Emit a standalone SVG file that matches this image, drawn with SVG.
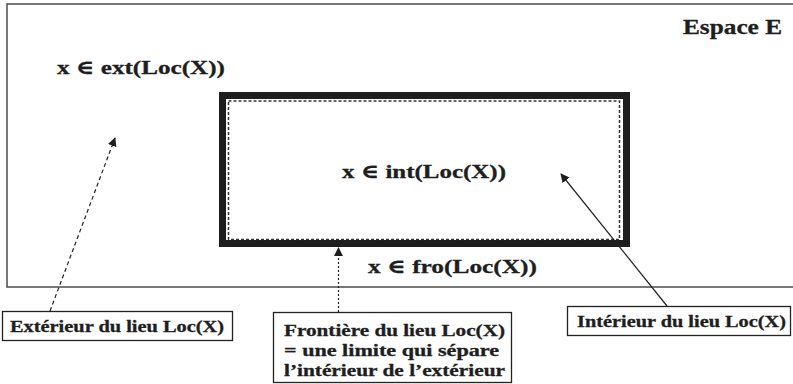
<svg xmlns="http://www.w3.org/2000/svg" width="793" height="384" viewBox="0 0 793 384">
  <style>
    text { font-family: "Liberation Serif", "DejaVu Serif", serif; font-weight: bold; fill: #1e1e1e; stroke: #1e1e1e; stroke-width: 0.3; }
    .big { font-size: 19.5px; }
    .title { font-size: 20.5px; }
    .lbl { font-size: 16px; }
    .box { fill: #fff; stroke: #222; stroke-width: 1.3; }
    .conn { fill: none; stroke: #222; stroke-width: 1.2; }
  </style>
  <defs>
    <marker id="head" viewBox="0 0 10 10" refX="9" refY="5" markerWidth="9" markerHeight="9" markerUnits="userSpaceOnUse" orient="auto">
      <path d="M0,0 L10,5 L0,10 Z" fill="#1e1e1e"/>
    </marker>
  </defs>
  <rect width="793" height="384" fill="#fff"/>

  <!-- Space E -->
  <g id="espace">
    <rect x="7" y="4" width="800" height="283" fill="none" stroke="#555" stroke-width="1.6"/>
    <text class="title" x="683" y="34" textLength="99" lengthAdjust="spacingAndGlyphs">Espace E</text>
    <text class="big" x="57" y="74" textLength="168" lengthAdjust="spacingAndGlyphs">x ∈ ext(Loc(X))</text>
  </g>

  <!-- Locus Loc(X) -->
  <g id="lieu">
    <rect x="222.5" y="95.5" width="404" height="148" fill="none" stroke="#1e1e1e" stroke-width="7"/>
    <rect x="228.5" y="101" width="391" height="138.5" fill="none" stroke="#333" stroke-width="1.5" stroke-dasharray="3 2"/>
    <text class="big" x="342" y="178" textLength="164" lengthAdjust="spacingAndGlyphs">x ∈ int(Loc(X))</text>
    <text class="big" x="368" y="273" textLength="169" lengthAdjust="spacingAndGlyphs">x ∈ fro(Loc(X))</text>
  </g>

  <!-- Connectors -->
  <g id="connectors">
    <line class="conn" x1="50" y1="311" x2="115" y2="138" stroke-dasharray="4 3" marker-end="url(#head)"/>
    <line class="conn" x1="338.5" y1="312" x2="338.5" y2="248" stroke-dasharray="2 2" marker-end="url(#head)"/>
    <line class="conn" x1="667" y1="306" x2="561" y2="174" stroke-width="1" marker-end="url(#head)"/>
  </g>

  <g id="exterieur">
    <rect class="box" x="2.5" y="311.5" width="230" height="29"/>
    <text class="lbl" x="10" y="332" textLength="214" lengthAdjust="spacingAndGlyphs">Extérieur du lieu Loc(X)</text>
  </g>

  <g id="frontiere">
    <rect class="box" x="273.5" y="312.5" width="238" height="70"/>
    <text class="lbl" x="284" y="336" textLength="221" lengthAdjust="spacingAndGlyphs">Frontière du lieu Loc(X)</text>
    <text class="lbl" x="284" y="356" textLength="215" lengthAdjust="spacingAndGlyphs">= une limite qui sépare</text>
    <text class="lbl" x="284" y="376" textLength="221" lengthAdjust="spacingAndGlyphs">l’intérieur de l’extérieur</text>
  </g>

  <g id="interieur">
    <rect class="box" x="567.5" y="306.5" width="223" height="29"/>
    <text class="lbl" x="577" y="327" textLength="209" lengthAdjust="spacingAndGlyphs">Intérieur du lieu Loc(X)</text>
  </g>
</svg>
